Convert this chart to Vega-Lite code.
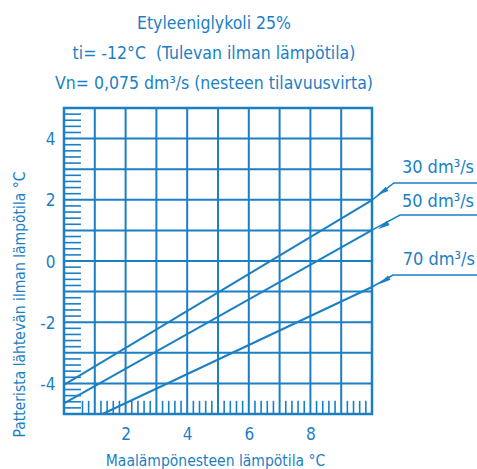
{
  "$schema": "https://vega.github.io/schema/vega-lite/v6.json",
  "width": 308,
  "height": 306,
  "autosize": "none",
  "padding": {"left": 64, "top": 108, "right": 105, "bottom": 55},
  "background": "white",
  "config": {
    "view": {"stroke": "#1b7fc4", "strokeWidth": 2.5},
    "font": "DejaVu Sans Condensed, Roboto, sans-serif",
    "axis": {
      "labelFont": "DejaVu Sans Condensed, Roboto, sans-serif",
      "titleFont": "DejaVu Sans Condensed, Roboto, sans-serif",
      "labelColor": "#1b7fc4",
      "titleColor": "#1b7fc4",
      "labelFontSize": 17,
      "titleFontSize": 15.5,
      "titleFontWeight": "normal",
      "grid": false,
      "domain": false,
      "ticks": false,
      "tickSize": 0
    }
  },
  "title": {
    "text": ["Etyleeniglykoli 25%", "ti= -12°C \u00a0(Tulevan ilman lämpötila)", "Vn= 0,075 dm³/s (nesteen tilavuusvirta)"],
    "font": "DejaVu Sans Condensed, Roboto, sans-serif",
    "fontSize": 17.5,
    "fontWeight": "normal",
    "lineHeight": 30,
    "color": "#1b7fc4",
    "anchor": "middle",
    "frame": "group",
    "offset": 15,
    "dx": -4
  },
  "datasets": {
    "lines": [
      {"series": "30", "x": 0, "y": -4.05},
      {"series": "30", "x": 10, "y": 1.99},
      {"series": "50", "x": 0, "y": -4.65},
      {"series": "50", "x": 10, "y": 1.01},
      {"series": "70", "x": 1.25, "y": -5},
      {"series": "70", "x": 10, "y": -0.85}
    ],
    "grid": [
      {"v": 1}, {"v": 2}, {"v": 3}, {"v": 4}, {"v": 5}, {"v": 6}, {"v": 7}, {"v": 8}, {"v": 9}
    ],
    "ygrid": [
      {"v": -4}, {"v": -3}, {"v": -2}, {"v": -1}, {"v": 0}, {"v": 1}, {"v": 2}, {"v": 3}, {"v": 4}
    ],
    "leaders": [
      {"series": "30", "o": 1, "x": 10, "y": 1.99},
      {"series": "30", "o": 2, "x": 10.71, "y": 2.55},
      {"series": "30", "o": 3, "x": 13.41, "y": 2.55},
      {"series": "50", "o": 1, "x": 10, "y": 1.01},
      {"series": "50", "o": 2, "x": 10.91, "y": 1.5},
      {"series": "50", "o": 3, "x": 13.41, "y": 1.5},
      {"series": "70", "o": 1, "x": 10, "y": -0.85},
      {"series": "70", "o": 2, "x": 10.68, "y": -0.46},
      {"series": "70", "o": 3, "x": 13.41, "y": -0.46}
    ],
    "arrows": [
      {"series": "30", "x": 10.32, "y": 2.25},
      {"series": "50", "x": 10.36, "y": 1.14},
      {"series": "70", "x": 10.39, "y": -0.65}
    ],
    "labels": [
      {"label": "30 dm³/s", "x": 10.97, "y": 2.88},
      {"label": "50 dm³/s", "x": 10.97, "y": 1.76},
      {"label": "70 dm³/s", "x": 11.0, "y": -0.13}
    ],
    "yticks": [
      {"v": -4.8}, {"v": -4.6}, {"v": -4.4}, {"v": -4.2},
      {"v": -3.8}, {"v": -3.6}, {"v": -3.4}, {"v": -3.2},
      {"v": -2.8}, {"v": -2.6}, {"v": -2.4}, {"v": -2.2},
      {"v": -1.8}, {"v": -1.6}, {"v": -1.4}, {"v": -1.2},
      {"v": -0.8}, {"v": -0.6}, {"v": -0.4}, {"v": -0.2},
      {"v": 0.2}, {"v": 0.4}, {"v": 0.6}, {"v": 0.8},
      {"v": 1.2}, {"v": 1.4}, {"v": 1.6}, {"v": 1.8},
      {"v": 2.2}, {"v": 2.4}, {"v": 2.6}, {"v": 2.8},
      {"v": 3.2}, {"v": 3.4}, {"v": 3.6}, {"v": 3.8},
      {"v": 4.2}, {"v": 4.4}, {"v": 4.6}, {"v": 4.8}
    ],
    "xticks": [
      {"v": 0.6}, {"v": 0.8},
      {"v": 1.2}, {"v": 1.4}, {"v": 1.6}, {"v": 1.8},
      {"v": 2.2}, {"v": 2.4}, {"v": 2.6}, {"v": 2.8},
      {"v": 3.2}, {"v": 3.4}, {"v": 3.6}, {"v": 3.8},
      {"v": 4.2}, {"v": 4.4}, {"v": 4.6}, {"v": 4.8},
      {"v": 5.2}, {"v": 5.4}, {"v": 5.6}, {"v": 5.8},
      {"v": 6.2}, {"v": 6.4}, {"v": 6.6}, {"v": 6.8},
      {"v": 7.2}, {"v": 7.4}, {"v": 7.6}, {"v": 7.8},
      {"v": 8.2}, {"v": 8.4}, {"v": 8.6}, {"v": 8.8},
      {"v": 9.2}, {"v": 9.4}, {"v": 9.6}, {"v": 9.8}
    ]
  },
  "layer": [
    {
      "data": {"name": "lines"},
      "mark": {"type": "line", "color": "#1b7fc4", "strokeWidth": 2},
      "encoding": {
        "x": {
          "field": "x", "type": "quantitative",
          "scale": {"domain": [0, 10], "nice": false, "zero": false},
          "axis": {
            "values": [2, 4, 6, 8],
            "labelExpr": "(datum.value % 2 == 0 && datum.value > 0 && datum.value < 10) ? ('' + datum.value) : ''",
            "labelPadding": 12,
            "title": "Maalämpönesteen lämpötila °C",
            "titleX": 151,
            "titleY": 51,
            "titleAlign": "center",
            "titleBaseline": "alphabetic"
          }
        },
        "y": {
          "field": "y", "type": "quantitative",
          "scale": {"domain": [-5, 5], "nice": false, "zero": false},
          "axis": {
            "values": [-4, -2, 0, 2, 4],
            "labelExpr": "(datum.value % 2 == 0 && datum.value > -5 && datum.value < 5) ? ('' + datum.value) : ''",
            "labelPadding": 9,
            "labelOffset": 1,
            "title": "Patterista lähtevän ilman lämpötila °C",
            "titleX": -40,
            "titleY": 196,
            "titleAlign": "center",
            "titleBaseline": "alphabetic",
            "titleAngle": -90
          }
        },
        "detail": {"field": "series"}
      }
    },
    {
      "data": {"name": "grid"},
      "mark": {"type": "rule", "color": "#1b7fc4", "strokeWidth": 2},
      "encoding": {
        "x": {"field": "v", "type": "quantitative"}
      }
    },
    {
      "data": {"name": "ygrid"},
      "mark": {"type": "rule", "color": "#1b7fc4", "strokeWidth": 2},
      "encoding": {
        "y": {"field": "v", "type": "quantitative"}
      }
    },
    {
      "data": {"name": "yticks"},
      "mark": {"type": "rule", "color": "#1b7fc4", "strokeWidth": 1.6},
      "encoding": {
        "y": {"field": "v", "type": "quantitative"},
        "x": {"datum": 0},
        "x2": {"datum": 0.55}
      }
    },
    {
      "data": {"name": "xticks"},
      "mark": {"type": "rule", "color": "#1b7fc4", "strokeWidth": 1.6},
      "encoding": {
        "x": {"field": "v", "type": "quantitative"},
        "y": {"datum": -5},
        "y2": {"datum": -4.57}
      }
    },
    {
      "data": {"name": "leaders"},
      "mark": {"type": "line", "color": "#1b7fc4", "strokeWidth": 1.5},
      "encoding": {
        "x": {"field": "x", "type": "quantitative"},
        "y": {"field": "y", "type": "quantitative"},
        "detail": {"field": "series"},
        "order": {"field": "o"}
      }
    },
    {
      "data": {"name": "arrows"},
      "mark": {"type": "point", "shape": "M0,-1L0.4,1L-0.4,1Z", "filled": true, "color": "#1b7fc4", "opacity": 1, "size": 150, "angle": 238},
      "encoding": {
        "x": {"field": "x", "type": "quantitative"},
        "y": {"field": "y", "type": "quantitative"}
      }
    },
    {
      "data": {"name": "labels"},
      "mark": {"type": "text", "align": "left", "baseline": "alphabetic", "font": "DejaVu Sans Condensed, Roboto, sans-serif", "fontSize": 18, "color": "#1b7fc4"},
      "encoding": {
        "x": {"field": "x", "type": "quantitative"},
        "y": {"field": "y", "type": "quantitative"},
        "text": {"field": "label"}
      }
    }
  ]
}
